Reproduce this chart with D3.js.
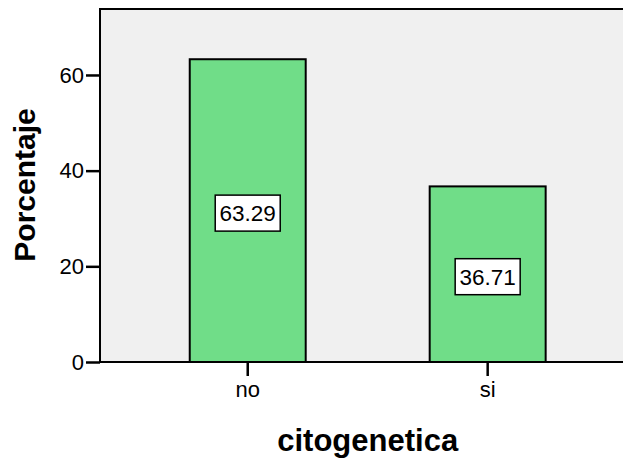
<!DOCTYPE html>
<html>
<head>
<meta charset="utf-8">
<script src="https://cdn.jsdelivr.net/npm/d3@7"></script>
<style>
  html, body { margin: 0; padding: 0; background: #ffffff; }
  svg { display: block; }
  text { font-family: "Liberation Sans", Arial, sans-serif; fill: #000; }
</style>
</head>
<body>
<svg id="chart" width="623" height="458"></svg>
<script>
// Frequency of cytogenetic study (percent)
const categories = ["no", "si"];
const percentages = [63.29, 36.71];
const yTicks = [0, 20, 40, 60];

const svg = d3.select("#chart");
const W = 623, H = 458;
const plot = { left: 100, right: 635.4, top: 8, bottom: 362 };

const x = d3.scaleBand()
  .domain(categories)
  .range([plot.left, plot.right])
  .paddingInner(0.5167)
  .paddingOuter(0.374);

const y = d3.scaleLinear()
  .domain([0, 74])
  .range([plot.bottom, plot.top]);

svg.append("clipPath").attr("id", "clip")
  .append("rect").attr("x", 0).attr("y", 0).attr("width", W).attr("height", H);

const g = svg.append("g").attr("clip-path", "url(#clip)");

// plot background
g.append("rect")
  .attr("x", plot.left).attr("y", plot.top)
  .attr("width", plot.right - plot.left).attr("height", plot.bottom - plot.top)
  .attr("fill", "#f0f0f0");

// top frame line
g.append("line")
  .attr("x1", plot.left).attr("x2", plot.right)
  .attr("y1", plot.top + 1).attr("y2", plot.top + 1)
  .attr("stroke", "#000").attr("stroke-width", 2);

// bars
g.selectAll("rect.bar")
  .data(categories.map((c, i) => ({ c, v: percentages[i] })))
  .join("rect")
  .attr("class", "bar")
  .attr("x", d => x(d.c))
  .attr("y", d => y(d.v))
  .attr("width", x.bandwidth())
  .attr("height", d => y(0) - y(d.v))
  .attr("fill", "#70dd88")
  .attr("stroke", "#000")
  .attr("stroke-width", 2);

// value labels in boxes
const boxW = 65, boxH = 36;
const labels = g.selectAll("g.vlabel")
  .data(categories.map((c, i) => ({ c, v: percentages[i] })))
  .join("g")
  .attr("class", "vlabel")
  .attr("transform", d => `translate(${x(d.c) + x.bandwidth() / 2},${(y(d.v) + y(0)) / 2 + 2.5})`);

labels.append("rect")
  .attr("x", -boxW / 2).attr("y", -boxH / 2)
  .attr("width", boxW).attr("height", boxH)
  .attr("fill", "#fff").attr("stroke", "#000").attr("stroke-width", 1.5);

labels.append("text")
  .attr("text-anchor", "middle")
  .attr("dy", "0.36em")
  .style("font-size", "22.5px")
  .text(d => d.v.toFixed(2));

// y axis
const yAxis = svg.append("g")
  .attr("transform", `translate(${plot.left},0)`)
  .call(d3.axisLeft(y).tickValues(yTicks).tickSize(14).tickPadding(2).tickSizeOuter(0));
yAxis.select(".domain").attr("stroke", "#000").attr("stroke-width", 2)
  .attr("d", `M0,${plot.top}V${plot.bottom + 1}`);
yAxis.selectAll(".tick line").attr("stroke", "#000").attr("stroke-width", 2.5);
yAxis.selectAll(".tick text").style("font-size", "22px").attr("fill", "#000")
  .style("font-family", "'Liberation Sans', Arial, sans-serif");

// x axis
const xAxis = svg.append("g")
  .attr("transform", `translate(0,${plot.bottom})`)
  .call(d3.axisBottom(x).tickSize(14).tickPadding(5).tickSizeOuter(0));
xAxis.select(".domain").attr("stroke", "#000").attr("stroke-width", 2)
  .attr("d", `M${plot.left - 1},0H${W}`);
xAxis.selectAll(".tick line").attr("stroke", "#000").attr("stroke-width", 2.5);
xAxis.selectAll(".tick text").style("font-size", "22px").attr("fill", "#000")
  .style("font-family", "'Liberation Sans', Arial, sans-serif");

// axis titles
svg.append("text")
  .attr("x", (plot.left + plot.right) / 2)
  .attr("y", 451)
  .attr("text-anchor", "middle")
  .style("font-size", "31px")
  .style("font-weight", "bold")
  .text("citogenetica");

svg.append("text")
  .attr("transform", `translate(35,${(plot.top + plot.bottom) / 2}) rotate(-90)`)
  .attr("text-anchor", "middle")
  .style("font-size", "30px")
  .style("font-weight", "bold")
  .text("Porcentaje");
</script>
</body>
</html>
